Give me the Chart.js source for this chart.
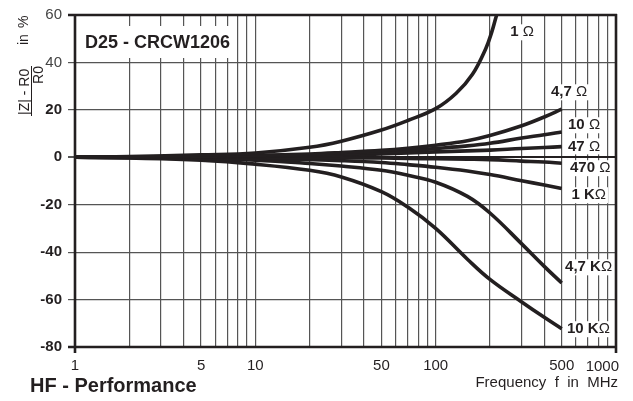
<!DOCTYPE html>
<html>
<head>
<meta charset="utf-8">
<script src="https://cdn.jsdelivr.net/npm/chart.js@4.4.0/dist/chart.umd.min.js"></script>
<style>
html, body { margin: 0; padding: 0; background: #fff; }
</style>
</head>
<body>
<canvas id="myChart" width="633" height="401"></canvas>
<script>
// frequency points in MHz
const freqs = [1, 2, 5, 10, 20, 30, 50, 70, 100, 150, 200, 300, 400, 500];
const freqs1R = [1, 2, 5, 10, 20, 30, 50, 70, 100, 130, 160, 190, 205, 215, 220];

// (|Z| - R0) / R0 in %
const r1 = [0, 0.3, 1.0, 1.8, 4.2, 6.8, 11.5, 15.5, 20.5, 27, 35, 46, 53, 58.5, 61];
const r4k7 = [0, 0.1, 0.4, 0.8, 1.4, 2.0, 2.9, 3.8, 5.1, 7.0, 9.2, 13.3, 17.0, 20.3];
const r10 = [0, 0.1, 0.3, 0.6, 1.0, 1.4, 2.1, 2.8, 3.7, 4.8, 5.9, 8.1, 9.5, 10.7];
const r47 = [0, 0.05, 0.2, 0.4, 0.7, 0.9, 1.4, 1.8, 2.3, 2.7, 3.0, 3.7, 4.1, 4.5];
const r470 = [0, 0, 0, 0, -0.1, -0.2, -0.3, -0.5, -0.6, -0.8, -1.0, -1.6, -2.0, -2.5];
const r1k = [0, -0.1, -0.3, -0.5, -1.0, -1.4, -2.2, -3.1, -4.2, -5.8, -7.3, -9.9, -11.7, -13.2];
const r4k7k = [0, -0.2, -0.6, -1.2, -2.6, -3.7, -5.5, -7.6, -10.5, -16.5, -23.5, -36.5, -46, -53];
const r10k = [0, -0.3, -1.2, -2.9, -5.5, -8.3, -14.5, -21, -30, -43, -51.5, -61, -67.5, -72.3];

// axis ticks
const xGrid = [1, 2, 3, 4, 5, 6, 7, 8, 9, 10, 20, 30, 40, 50, 60, 70, 80, 90, 100, 200, 300, 400, 500, 600, 700, 800, 900, 1000];
const xLabels = [1, 5, 10, 50, 100, 500, 1000];

// curve names, anchored in data units (f in MHz, value in %)
const curveLabels = [
    { text: '1 Ω', f: 259, v: 52.7 },
    { text: '4,7 Ω', f: 436, v: 27.4 },
    { text: '10 Ω', f: 542, v: 13.5 },
    { text: '47 Ω', f: 542, v: 4.6 },
    { text: '470 Ω', f: 556, v: -4.6 },
    { text: '1 KΩ', f: 566, v: -16 },
    { text: '4,7 KΩ', f: 522, v: -46.4 },
    { text: '10 KΩ', f: 535, v: -72.5 }
];

const FONT = "'Liberation Sans', Arial, sans-serif";
const INK = '#231f20';

function pts(xs, ys) {
    return xs.map((x, i) => ({ x: x, y: ys[i] }));
}

function curve(label, xs, ys) {
    return {
        label: label,
        data: pts(xs, ys),
        borderColor: INK,
        borderWidth: 3.6,
        pointRadius: 0,
        fill: false,
        tension: 0.4,
        borderCapStyle: 'butt'
    };
}

const data = {
    datasets: [
        curve('1 Ω', freqs1R, r1),
        curve('4,7 Ω', freqs, r4k7),
        curve('10 Ω', freqs, r10),
        curve('47 Ω', freqs, r47),
        curve('470 Ω', freqs, r470),
        curve('1 KΩ', freqs, r1k),
        curve('4,7 KΩ', freqs, r4k7k),
        curve('10 KΩ', freqs, r10k)
    ]
};

// labels, title box, frame and axis titles
const extras = {
    id: 'extras',
    beforeDatasetsDraw(chart) {
        const ctx = chart.ctx;
        const xs = chart.scales.x, ys = chart.scales.y;
        const a = chart.chartArea;
        ctx.save();
        // title box
        ctx.fillStyle = '#fff';
        ctx.fillRect(a.left + 2, 26, 158, 32);
        ctx.fillStyle = INK;
        ctx.font = 'bold 18px ' + FONT;
        ctx.textBaseline = 'middle';
        ctx.fillText('D25 - CRCW1206', a.left + 10, 43);

        curveLabels.forEach(l => {
            const x = xs.getPixelForValue(l.f);
            const y = ys.getPixelForValue(l.v);
            const head = l.text.slice(0, -1);
            ctx.font = 'bold 15px ' + FONT;
            const w1 = ctx.measureText(head).width;
            ctx.font = '15px ' + FONT;
            const w2 = ctx.measureText('Ω').width;
            ctx.fillStyle = '#fff';
            ctx.fillRect(x - 2, y - 8, w1 + w2 + 4, 16);
            ctx.fillStyle = INK;
            ctx.font = 'bold 15px ' + FONT;
            ctx.fillText(head, x, y);
            ctx.font = '15px ' + FONT;
            ctx.fillText('Ω', x + w1, y);
        });
        ctx.restore();
    },
    afterDraw(chart) {
        const ctx = chart.ctx;
        const a = chart.chartArea;
        ctx.save();
        // frame
        ctx.strokeStyle = INK;
        ctx.lineWidth = 2.6;
        ctx.beginPath();
        ctx.moveTo(a.left - 7, a.top); ctx.lineTo(a.right + 1, a.top);
        ctx.moveTo(a.left - 7, a.bottom); ctx.lineTo(a.right + 1, a.bottom);
        ctx.moveTo(a.left, a.top); ctx.lineTo(a.left, a.bottom + 6);
        ctx.moveTo(a.right, a.top - 1); ctx.lineTo(a.right, a.bottom + 6);
        ctx.stroke();

        // last x label, drawn right aligned
        ctx.fillStyle = INK;
        ctx.font = '15px ' + FONT;
        ctx.textAlign = 'right';
        ctx.textBaseline = 'middle';
        ctx.fillText('1000', a.right + 3, 367);

        // x title
        ctx.fillText('Frequency  f  in  MHz', a.right + 2, 383);

        // chart name
        ctx.textAlign = 'left';
        ctx.font = 'bold 20px ' + FONT;
        ctx.fillText('HF - Performance', 30, 386);

        // y title, rotated
        ctx.rotate(-Math.PI / 2);
        ctx.textBaseline = 'alphabetic';
        ctx.font = '14px ' + FONT;
        ctx.textAlign = 'left';
        ctx.fillText('|Z| - R0', -115, 29);
        ctx.textAlign = 'right';
        ctx.fillText('R0', -66, 43);
        ctx.textAlign = 'left';
        ctx.fillText('in', -45, 28);
        ctx.fillText('%', -28, 28);
        ctx.lineWidth = 1;
        ctx.beginPath();
        ctx.moveTo(-116, 31.5);
        ctx.lineTo(-66, 31.5);
        ctx.stroke();
        ctx.restore();
    }
};

const scales = {
    x: {
        type: 'logarithmic',
        min: 1,
        max: 1000,
        afterBuildTicks(scale) {
            scale.ticks = xGrid.map(v => ({ value: v }));
        },
        afterFit(scale) {
            scale.height = 54;
        },
        ticks: {
            autoSkip: false,
            maxRotation: 0,
            padding: 4,
            color: INK,
            font: { family: FONT, size: 15 },
            callback(value) {
                if (value === 1000) return '';
                return xLabels.includes(value) ? String(value) : '';
            }
        },
        grid: {
            color: '#555',
            lineWidth: 1.2,
            tickLength: 6,
            tickColor: 'rgba(0,0,0,0)'
        },
        border: { display: false }
    },
    y: {
        min: -80,
        max: 60,
        afterFit(scale) {
            scale.width = 75;
        },
        ticks: {
            stepSize: 20,
            padding: 6,
            color(c) {
                return c.tick.value >= 40 ? '#444' : INK;
            },
            font(c) {
                return c.tick && c.tick.value >= 40
                    ? { family: FONT, size: 15 }
                    : { family: FONT, size: 15, weight: 'bold' };
            }
        },
        grid: {
            color(c) {
                return c.tick.value === 0 ? INK : '#555';
            },
            lineWidth(c) {
                return c.tick.value === 0 ? 2 : 1.2;
            },
            tickLength: 7,
            tickColor: '#555'
        },
        border: { display: false }
    }
};

const config = {
    type: 'line',
    data,
    options: {
        responsive: false,
        animation: false,
        layout: { padding: { left: 0, top: 15, right: 17, bottom: 0 } },
        scales: scales,
        plugins: {
            legend: { display: false },
            tooltip: { enabled: false }
        }
    },
    plugins: [extras]
};

const myChart = new Chart(document.getElementById('myChart'), config);
</script>
</body>
</html>
